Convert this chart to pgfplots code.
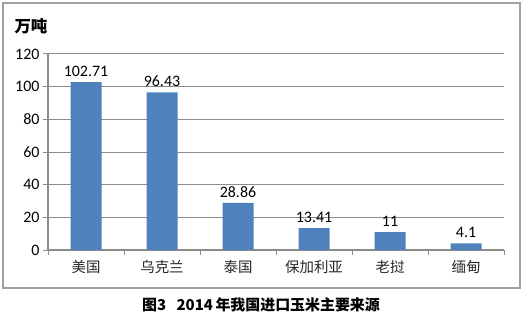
\documentclass[border=0pt]{standalone}
\usepackage{pgfplots}
\pgfplotsset{compat=1.18}
\usepackage{fontspec}
\setmainfont{Carlito}
\newfontfamily\cjk{Noto Sans CJK SC}
\definecolor{barblue}{HTML}{4F81BD}
\definecolor{gridgray}{HTML}{8C8C8C}
\definecolor{framegray}{HTML}{A0A0A0}
\begin{document}
\begin{tikzpicture}[x=1bp,y=1bp]
\useasboundingbox (0,0) rectangle (530,319);
\draw[framegray,line width=1.2bp] (3,31) rectangle (520,316);
\node[anchor=west,font=\cjk\bfseries\fontsize{16.5}{18}\selectfont] at (11,293) {万吨};
\begin{axis}[
  at={(48bp,69bp)}, anchor=south west,
  scale only axis, width=456bp, height=196bp,
  xmin=-0.5, xmax=5.5, ymin=0, ymax=120,
  ytick={0,20,...,120},
  xtick={0,1,2,3,4,5},
  xticklabels={美国,乌克兰,泰国,保加利亚,老挝,缅甸},
  x tick label style={font=\cjk\fontsize{14.5}{16}\selectfont, color=black!85, yshift=-2bp},
  minor xtick={-0.5,0.5,...,5.5},
  major x tick style={draw=none},
  minor tick length=5bp, major tick length=5bp,
  tick align=outside,
  tick style={gridgray, line width=1bp},
  axis x line*=bottom, axis y line*=left,
  axis line style={gridgray, line width=1.2bp, -},
  ymajorgrids, grid style={gridgray, line width=1bp},
  y tick label style={font=\fontsize{16}{18}\selectfont},
  /pgf/number format/assume math mode=true,
  nodes near coords,
  nodes near coords style={font=\fontsize{16}{18}\selectfont, black, yshift=2bp},
  point meta=explicit symbolic,
  clip=false,
]
\addplot[ybar, bar width=31bp, fill=barblue, draw=none] coordinates {
  (0,102.71) [102.71]
  (1,96.43) [96.43]
  (2,28.86) [28.86]
  (3,13.41) [13.41]
  (4,11) [11]
  (5,4.1) [4.1]
};
\end{axis}
\node[font=\cjk\bfseries\fontsize{15}{17}\selectfont] at (261,14) {图3\hspace{0.7em}2014\,年我国进口玉米主要来源};
\end{tikzpicture}
\end{document}
